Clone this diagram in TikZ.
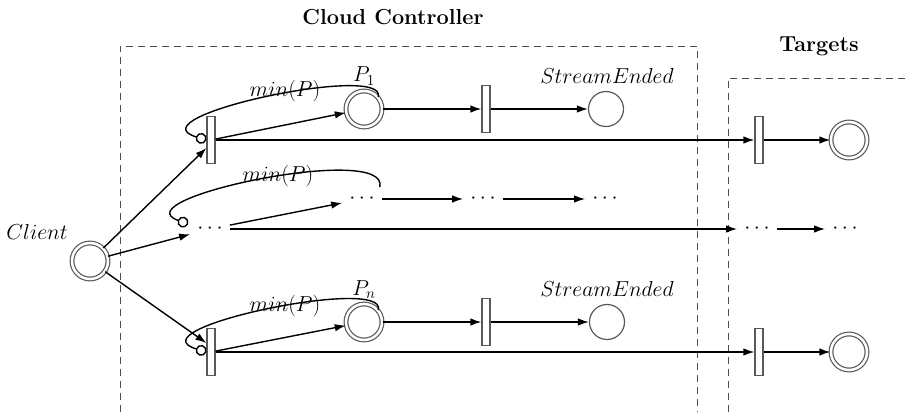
\documentclass[tikz,border=0pt]{standalone}
\usepackage{fix-cm}
\usetikzlibrary{arrows.meta,calc}
\begin{document}
\begin{tikzpicture}[x=1pt,y=-1pt,
  every node/.style={font=\fontsize{21.7}{26}\selectfont},
  place/.style={circle,draw=gray!70!black,line width=1.2pt,double=white,double distance=2.5pt,minimum size=36pt,inner sep=0pt},
  endplace/.style={circle,draw=gray!70!black,line width=1.2pt,minimum size=35pt,inner sep=0pt},
  trans/.style={rectangle,draw=gray!70!black,fill=white,line width=1.2pt,minimum width=8pt,minimum height=47pt,inner sep=0pt},
  dots/.style={inner sep=7pt},
  flow/.style={-{Latex[length=11pt,width=7.5pt]},line width=1.4pt},
  inhib/.style={-{Circle[open,length=11pt,line width=1.4pt]},line width=1.4pt},
  region/.style={draw=gray!60!black,line width=0.9pt,dash pattern=on 7pt off 5pt},
  title/.style={font=\bfseries\fontsize{21.7}{26}\selectfont}]

\useasboundingbox (0,0) rectangle (906,412);

% dashed regions
\draw[region] (120,412) -- (120,46) -- (697,46) -- (697,412);
\draw[region] (728,412) -- (728,78) -- (906,78);

% titles
\node[title,anchor=base] (cc) at (393,25) {Cloud Controller};
\node[title,anchor=base] (tg) at (819,52) {Targets};

% client
\node[place] (client) at (90,261) {};
\node[anchor=base] (clientlbl) at (37,239) {$Client$};

% first stream
\node[trans] (t1) at (211,140) {};
\node[place] (p1) at (364,109) {};
\node[trans] (t2) at (486,109) {};
\node[endplace] (e1) at (606,109) {};
\node[trans] (tt1) at (759,140) {};
\node[place] (tp1) at (849,140) {};
\node[anchor=base] (p1lbl) at (364,82) {$P_1$};
\node[anchor=base] (e1lbl) at (607,84) {$StreamEnded$};
\node[anchor=base] (m1) at (285,96) {$min(P)$};

% intermediate streams
\node[dots] (mt1) at (210,229) {$\cdots$};
\node[dots] (mp) at (362,199) {$\cdots$};
\node[dots] (mt2) at (483,199) {$\cdots$};
\node[dots] (me) at (605,199) {$\cdots$};
\node[dots] (mtt) at (757,229) {$\cdots$};
\node[dots] (mtp) at (845,229) {$\cdots$};
\node[anchor=base] (m2) at (278,182) {$min(P)$};

% last stream
\node[trans] (t3) at (211,352) {};
\node[place] (pn) at (364,322) {};
\node[trans] (t4) at (486,322) {};
\node[endplace] (e2) at (607,322) {};
\node[trans] (tt2) at (759,352) {};
\node[place] (tp2) at (849,352) {};
\node[anchor=base] (pnlbl) at (364,295) {$P_n$};
\node[anchor=base] (e2lbl) at (607,296) {$StreamEnded$};
\node[anchor=base] (m3) at (285,311) {$min(P)$};

% client fan-out
\draw[flow] (client) -- ([yshift=-8pt]t1.west);
\draw[flow] (client) -- (mt1);
\draw[flow] (client) -- ([yshift=9pt]t3.west);

% first stream arcs
\draw[flow] (t1) -- (p1);
\draw[flow] (p1) -- (t2);
\draw[flow] (t2) -- (e1);
\draw[flow] (t1.east) -- (tt1.west);
\draw[flow] (tt1) -- (tp1);
\draw[inhib] (p1.40) .. controls +(10,-35) and +(-76,-23) .. (t1.west);

% intermediate arcs
\draw[flow] (mt1) -- (mp);
\draw[flow] (mp) -- (mt2);
\draw[flow] (mt2) -- (me);
\draw[flow] (mt1) -- (mtt);
\draw[flow] (mtt) -- (mtp);
\draw[inhib] ([xshift=-2pt,yshift=12pt]mp.east) .. controls +(10,-45) and +(-70,-25) .. ([xshift=-2pt,yshift=5pt]mt1.west);

% last stream arcs
\draw[flow] (t3) -- (pn);
\draw[flow] (pn) -- (t4);
\draw[flow] (t4) -- (e2);
\draw[flow] (t3.east) -- (tt2.west);
\draw[flow] (tt2) -- (tp2);
\draw[inhib] (pn.40) .. controls +(10,-35) and +(-76,-23) .. (t3.west);
\end{tikzpicture}
\end{document}
